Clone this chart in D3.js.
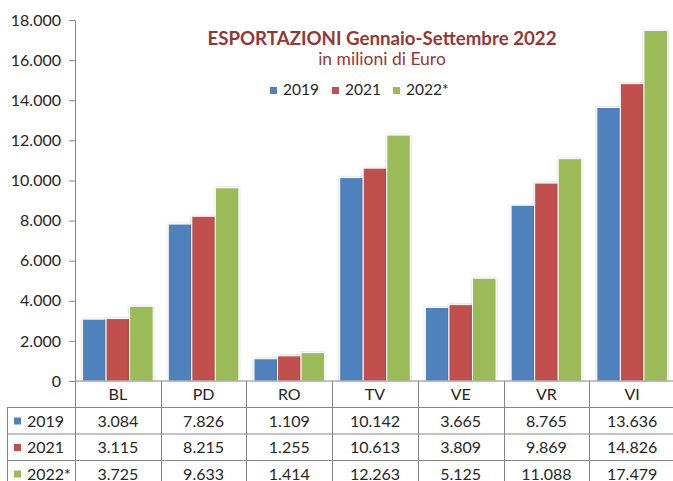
<!DOCTYPE html>
<html>
<head>
<meta charset="utf-8">
<script src="https://cdn.jsdelivr.net/npm/d3@7"></script>
<style>
  body { margin: 0; background: #fff; }
  text { font-family: Lato, "Open Sans", sans-serif; }
</style>
</head>
<body>
<script>
const categories = ['BL', 'PD', 'RO', 'TV', 'VE', 'VR', 'VI'];
const seriesNames = ['2019', '2021', '2022*'];
const values2019 = [3084, 7826, 1109, 10142, 3665, 8765, 13636];
const values2021 = [3115, 8215, 1255, 10613, 3809, 9869, 14826];
const values2022 = [3725, 9633, 1414, 12263, 5125, 11088, 17479];
const yTicks = [0, 2000, 4000, 6000, 8000, 10000, 12000, 14000, 16000, 18000];
const colors = ['#4F81BD', '#C0504D', '#9BBB59'];

const series = [values2019, values2021, values2022];

const w = 673, h = 481;
const plotLeft = 75, plotRight = 675, plotTop = 20, base = 381;
const rowH = 26.5;

const it = d3.formatLocale({ decimal: ',', thousands: '.', grouping: [3], currency: ['', '€'] });
const fmt = it.format(',d');

let svg = d3.select('body').append('svg')
  .attr('width', w)
  .attr('height', h);

let defs = svg.append('defs');
let f = defs.append('filter').attr('id', 'sh')
  .attr('x', '-20%').attr('y', '-5%').attr('width', '140%').attr('height', '110%');
f.append('feDropShadow').attr('dx', 0).attr('dy', 0).attr('stdDeviation', 1.2)
  .attr('flood-color', '#000').attr('flood-opacity', 0.25);

let x = d3.scaleBand().domain(categories).range([plotLeft, plotRight]);
let x1 = d3.scaleBand().domain(d3.range(3)).range([0, x.bandwidth()]).paddingOuter(0.32);
let y = d3.scaleLinear().domain([0, 18000]).range([base, plotTop]);

// bars
let groups = svg.selectAll('g.cat')
  .data(categories)
  .enter()
  .append('g')
  .attr('class', 'cat')
  .attr('transform', d => 'translate(' + x(d) + ',0)');

groups.selectAll('rect')
  .data((d, i) => series.map((s, j) => ({ j: j, v: s[i] })))
  .enter()
  .append('rect')
  .attr('x', d => x1(d.j))
  .attr('width', x1.bandwidth())
  .attr('y', d => y(d.v))
  .attr('height', d => base - y(d.v))
  .attr('fill', d => colors[d.j])
  .attr('stroke', '#fff')
  .attr('stroke-width', 1)
  .attr('filter', 'url(#sh)');

// y axis
let yAxis = d3.axisLeft(y).tickValues(yTicks).tickFormat(fmt).tickSizeOuter(0).tickSize(6).tickPadding(8);
let ga = svg.append('g').attr('transform', 'translate(' + plotLeft + ',0)').call(yAxis);
ga.select('.domain').attr('stroke', '#868686');
ga.selectAll('.tick line').attr('stroke', '#868686');
ga.selectAll('.tick text').attr('fill', '#262626').style('font-size', '16px');

// data table
const lineCol = '#868686';
let tbl = svg.append('g');
const rowsY = [base + rowH, base + 2 * rowH, base + 3 * rowH];
tbl.append('line').attr('x1', plotLeft).attr('x2', w).attr('y1', base).attr('y2', base)
  .attr('stroke', lineCol);
rowsY.forEach(ry => {
  tbl.append('line').attr('x1', 7).attr('x2', w).attr('y1', ry).attr('y2', ry)
    .attr('stroke', lineCol);
});
tbl.append('line').attr('x1', 7.5).attr('x2', 7.5).attr('y1', base + rowH).attr('y2', h)
  .attr('stroke', lineCol);
categories.forEach(c => {
  tbl.append('line').attr('x1', Math.round(x(c)) + 0.5).attr('x2', Math.round(x(c)) + 0.5)
    .attr('y1', base).attr('y2', h).attr('stroke', lineCol);
});

tbl.selectAll('text.cat')
  .data(categories)
  .enter()
  .append('text')
  .attr('x', d => x(d) + x.bandwidth() / 2)
  .attr('y', base + 18.5)
  .attr('text-anchor', 'middle')
  .attr('fill', '#262626')
  .style('font-size', '16px')
  .text(d => d);

series.forEach((s, j) => {
  let ry = base + rowH * (j + 1);
  tbl.append('rect').attr('x', 14).attr('y', ry + 10).attr('width', 7).attr('height', 7)
    .attr('fill', colors[j]);
  tbl.append('text').attr('x', 27).attr('y', ry + 19)
    .attr('fill', '#262626').style('font-size', '16px').text(seriesNames[j]);
  tbl.selectAll('text.v' + j)
    .data(s)
    .enter()
    .append('text')
    .attr('x', (d, i) => x(categories[i]) + x.bandwidth() / 2)
    .attr('y', ry + 19)
    .attr('text-anchor', 'middle')
    .attr('fill', '#262626')
    .style('font-size', '16px')
    .text(d => fmt(d));
});

// title
svg.append('text')
  .attr('x', 382).attr('y', 45)
  .attr('text-anchor', 'middle')
  .attr('fill', '#953735')
  .style('font-size', '18.7px').style('font-weight', 'bold')
  .text('ESPORTAZIONI Gennaio-Settembre 2022');
svg.append('text')
  .attr('x', 382).attr('y', 65)
  .attr('text-anchor', 'middle')
  .attr('fill', '#953735')
  .style('font-size', '17.5px')
  .text('in milioni di Euro');

// legend
const legX = [270, 332, 393];
let leg = svg.selectAll('g.leg')
  .data(seriesNames)
  .enter()
  .append('g')
  .attr('class', 'leg')
  .attr('transform', (d, i) => 'translate(' + legX[i] + ',87)');
leg.append('rect').attr('width', 7).attr('height', 7).attr('fill', (d, i) => colors[i]);
leg.append('text').attr('x', 13).attr('y', 7.5)
  .attr('fill', '#262626').style('font-size', '15.5px').text(d => d);
</script>
</body>
</html>
